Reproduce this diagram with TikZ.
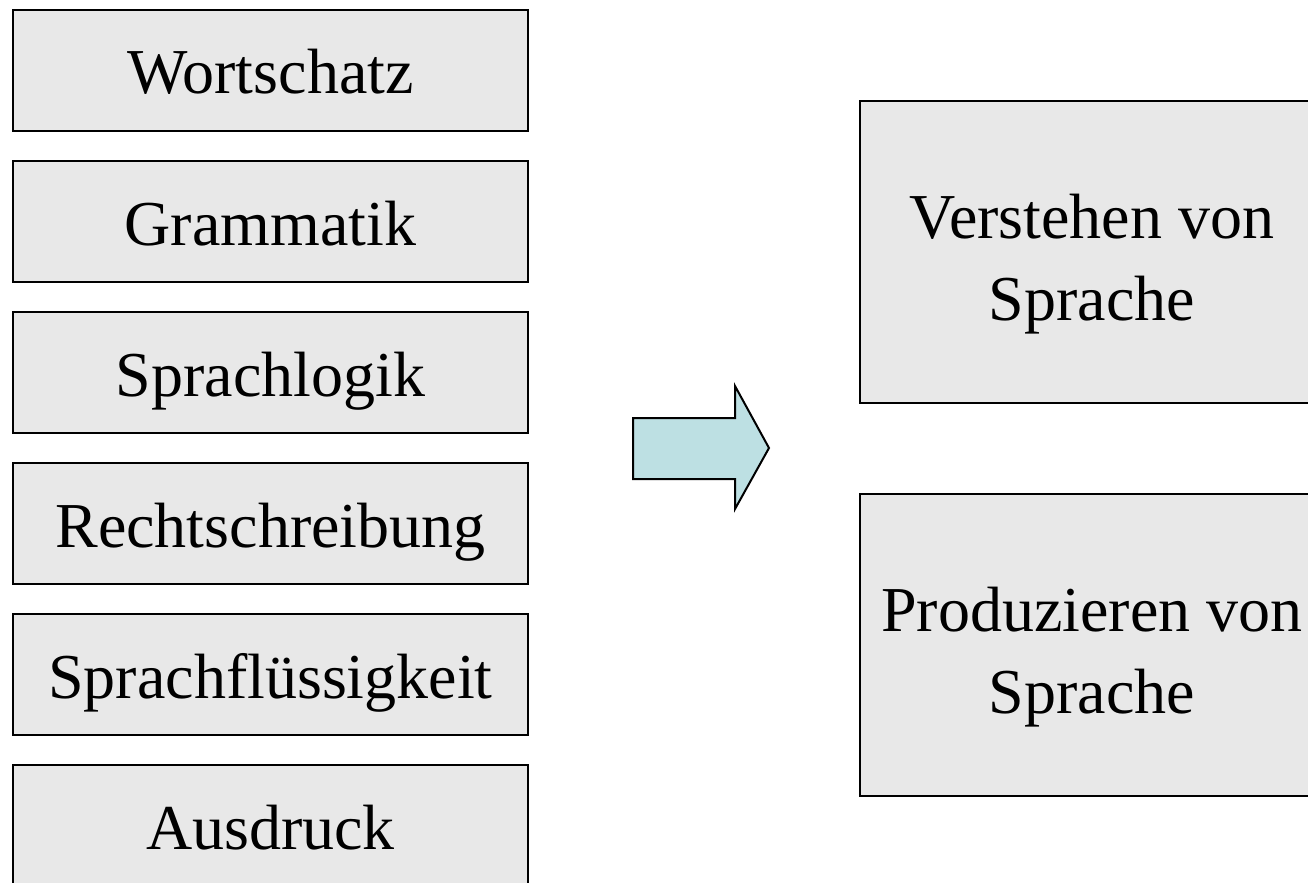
\documentclass[tikz,border=0pt]{standalone}
\usepackage{fontspec}
\setmainfont{Liberation Serif}
\usetikzlibrary{positioning}
\definecolor{boxgray}{HTML}{E8E8E8}
\definecolor{arrowcyan}{HTML}{BDE0E3}
\begin{document}
\begin{tikzpicture}[x=0.5pt,y=-0.5pt]
            \tikzstyle{every node}+=[inner sep=0pt, outer sep=0pt]
            \tikzstyle{skill}=[draw=black, line width=1pt, fill=boxgray, minimum width=257.5pt, minimum height=60.5pt, text height=23.5pt, text depth=0pt, font=\fontsize{32}{41}\selectfont]
            \tikzstyle{goal}=[draw=black, line width=1pt, fill=boxgray, minimum width=232pt, minimum height=151pt]
            \tikzstyle{goaltext}=[align=center, font=\fontsize{32}{41}\selectfont]
            \useasboundingbox (0,0) rectangle (1308,883);
            \node [skill] (wort) at (270.5,70.5) {Wortschatz};
            \node [skill, below=15pt of wort] (gram) {Grammatik};
            \node [skill, below=15pt of gram] (logik) {Sprachlogik};
            \node [skill, below=15pt of logik] (recht) {Rechtschreibung};
            \node [skill, below=15pt of recht] (fluss) {Sprachflüssigkeit};
            \node [skill, below=15pt of fluss] (ausd) {Ausdruck};
            \node [goal] (verst) at (1092,252) {};
            \node [goal, below=45.5pt of verst] (prod) {};
            \node [goaltext, yshift=-6pt] (verstText) at (verst.center) {Verstehen von\\Sprache};
            \node [goaltext, yshift=-6pt] (prodText) at (prod.center) {Produzieren von\\Sprache};
            \draw [black, line width=1pt, fill=arrowcyan, line join=miter] (633,418) -- (735,418) -- (735,386) -- (769,448) -- (735,509) -- (735,479) -- (633,479) -- cycle;
        \end{tikzpicture}
\end{document}
